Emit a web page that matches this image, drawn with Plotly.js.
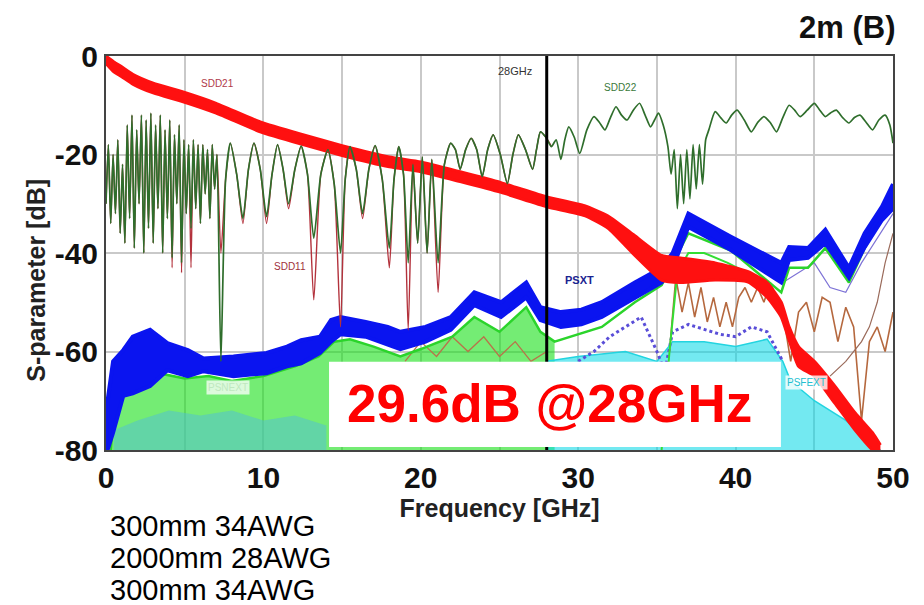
<!DOCTYPE html>
<html>
<head>
<meta charset="utf-8">
<script src="https://cdn.plot.ly/plotly-3.0.1.min.js"></script>
<style>html,body{margin:0;padding:0;background:#fff;}#chart{width:924px;height:605px;}</style>
</head>
<body>
<div id="chart"></div>
<script>
// ---------- tick labels ----------
const xTickVals = [0, 5, 10, 15, 20, 25, 30, 35, 40, 45, 50];
const xTickText = ['0', '', '10', '', '20', '', '30', '', '40', '', '50'];
const yTickVals = [0, -20, -40, -60, -80];
const yTickText = ['0', '-20', '-40', '-60', '-80'];

// ---------- SDD21 (insertion loss band: upper / lower edge) ----------
const fSDD21 = [0, 0.5, 1, 1.7, 3, 4.9, 7, 9.8, 12.4, 15, 18, 20, 22.5, 25.1, 28, 30.4, 31.9, 33.6, 35.3, 36.5, 38.7, 40.8, 42, 42.9, 43.4, 44, 45, 46.3, 47.6, 48.7, 49.2];
const sdd21Upper = [0, -1.2, -2.2, -3.7, -5.5, -7.3, -9.6, -13.4, -15.9, -18.2, -20.5, -21.5, -23.5, -25.7, -28.6, -30.4, -32.5, -36.5, -40.5, -41, -42, -43.8, -46, -50, -55, -59, -62, -67, -72.5, -76.5, -79];
const sdd21Lower = [-1.5, -3.2, -4.2, -5.7, -7.5, -9.3, -11.6, -15.4, -17.9, -20.2, -22.5, -23.5, -25.5, -27.7, -30.6, -32.4, -35, -40.5, -45.5, -46, -45.5, -45.9, -49, -53, -57.7, -63, -65, -70.5, -76, -80, -81];

// ---------- SDD22 (return loss) ----------
const fSDD22 = [
  0, 0.15, 0.3, 0.45, 0.6, 0.75, 0.9, 1.05, 1.2, 1.35,
  1.5, 1.65, 1.8, 1.95, 2.1, 2.25, 2.4, 2.55, 2.7, 2.85,
  3.0, 3.15, 3.3, 3.45, 3.6, 3.75, 3.9, 4.05, 4.2, 4.35,
  4.5, 4.65, 4.8, 4.95, 5.1, 5.25, 5.4, 5.55, 5.7, 5.85,
  6.0, 6.15, 6.3, 6.45, 6.6, 6.75, 6.9, 7.05, 7.3, 7.6,
  7.9, 8.3, 8.7, 9.05, 9.4, 9.8, 10.2, 10.55, 10.9, 11.25,
  11.6, 12.0, 12.4, 12.8, 13.2, 13.65, 14.1, 14.5, 14.9, 15.2,
  15.5, 15.9, 16.3, 16.7, 17.1, 17.55, 18.0, 18.3, 18.6, 18.9,
  19.2, 19.5, 19.8, 20.1, 20.4, 20.7, 21.1, 21.5, 21.9, 22.2,
  22.5, 22.85, 23.2, 23.55, 23.9, 24.25, 24.6, 25.05, 25.5, 25.85,
  26.2, 26.65, 27.1, 27.35, 27.6, 27.95, 28.3, 28.6, 28.9, 29.15,
  29.4, 29.75, 30.1, 30.55, 31.0, 31.35, 31.7, 32.05, 32.4, 32.75,
  33.1, 33.5, 33.9, 34.25, 34.6, 34.85, 35.1, 35.4, 35.7, 35.9,
  36.1, 36.3, 36.5, 36.7, 36.9, 37.1, 37.3, 37.5, 37.7, 37.9,
  38.1, 38.3, 38.7, 39.05, 39.4, 39.75, 40.1, 40.55, 41.0, 41.4,
  41.8, 42.2, 42.6, 43.0, 43.4, 43.75, 44.1, 44.55, 45.0, 45.35,
  45.7, 46.05, 46.4, 46.8, 47.2, 47.55, 47.9, 48.3, 48.7, 49.1,
  49.5, 49.8, 50];
const sdd22 = [
  -30, -18, -34, -20, -32, -17, -36, -22, -38, -14,
  -33, -12, -39, -15, -30, -12, -40, -13, -35, -11.6,
  -38, -14, -31, -12, -40, -15, -33, -13, -41, -16,
  -30, -14, -42, -17, -32, -18, -35, -17, -31, -18,
  -34, -18, -28, -19, -33, -18, -27, -20, -62, -25,
  -17.7, -24, -33, -23, -17.7, -23, -32.6, -24, -18, -23,
  -30, -23, -18.3, -24, -37, -24, -19, -26, -40, -25,
  -18.4, -23, -32, -23, -18.2, -25, -39, -25, -18.4, -24,
  -42, -22, -38, -20.5, -40, -21, -42, -22, -17.7, -19,
  -23, -19, -16.7, -19, -24.5, -19, -16, -20, -25.9, -20,
  -16, -19, -23, -19, -15.4, -16.5, -18.4, -17, -21, -17,
  -14.4, -16.5, -19.8, -15, -12.3, -13.5, -15, -12.5, -10.3, -12,
  -13, -11, -9.6, -12, -14.4, -13, -11.6, -14, -18.4, -24,
  -19, -31, -20, -30, -19, -29, -18, -27, -18, -26,
  -17, -15, -11.3, -12.5, -13.6, -12, -11, -13, -15.4, -13.5,
  -12.3, -13.5, -15.4, -12.5, -10, -11, -12.3, -11, -9.6, -11,
  -12.3, -11.5, -11, -12.5, -13.6, -12.5, -12, -13.5, -15, -13,
  -12, -14, -17.7];

// ---------- SDD11 (return loss, same grid up to 28.3 GHz) ----------
const fSDD11 = fSDD22.slice(0, 107);
const sdd11 = [
  -30, -18, -34, -20, -32, -17, -36, -22, -38, -14,
  -33, -12, -39, -15, -30, -12, -40, -13, -35, -11.6,
  -38, -14, -31, -12, -40, -15, -33, -13, -43, -16,
  -30, -14, -44, -17, -32, -18, -43, -17, -31, -18,
  -34, -18, -28, -19, -33, -18, -27, -20, -40, -25,
  -17.7, -24, -34, -23, -17.7, -23, -34, -24, -18, -23,
  -31, -23, -18.3, -24, -49.5, -24, -19, -26, -55, -25,
  -18.4, -23, -33, -23, -18.2, -25, -43, -25, -18.4, -24,
  -55.6, -22, -38, -20.5, -40, -21, -48, -22, -17.7, -19,
  -23, -19, -16.7, -19, -24.5, -19, -16, -20, -25.9, -20,
  -16, -19, -23, -19, -15.4, -16.5, -18.4];

// ---------- PSXT (power-sum crosstalk band) ----------
const fPSXT = [0, 0.1, 0.45, 1.1, 1.7, 2.8, 3.9, 5.2, 6.2, 8.1, 10.2, 11.5, 12.4, 13.6, 14.3, 14.9, 16.5, 17.9, 18.7, 20.3, 21.9, 23.4, 25.1, 26.7, 27.6, 28.9, 30.2, 31.5, 33.6, 35.3, 36.0, 37.0, 39.7, 42.9, 43.4, 44.6, 45.7, 47.2, 48.2, 49.3, 50];
const psxtTop = [-80, -70, -62, -59.7, -57, -55.6, -58.3, -59.7, -61.4, -61, -60.3, -59, -57.7, -57, -53.6, -53, -54, -55, -56, -55, -53, -48, -50, -46, -51, -52, -51.5, -50, -46, -43, -40, -32, -36.7, -42, -38.8, -39, -35.3, -43, -36, -30.6, -26];
const psxtBottom = [-80, -80, -76.5, -69, -68.5, -67, -63.8, -65, -64, -65, -64.4, -63, -62.4, -60.3, -58, -56.5, -57, -58.5, -59.5, -58, -55.6, -50.6, -53, -49, -53.6, -55, -54.5, -53, -49, -46, -43, -34.7, -39.4, -46, -41.4, -41, -38, -45, -38.8, -33.3, -31];

// ---------- PSNEXT (green) ----------
const fNext = [0.3, 0.5, 1.0, 1.5, 2.5, 3.5, 5, 6.5, 8, 10, 12, 13.5, 14.5, 15.5, 17, 18.7, 20, 22, 23.4, 25, 26.7, 27.6, 28.5, 30, 31.5, 33.6, 35.3, 37, 39.7, 42.9, 43.4, 44.6, 45.7, 47.2, 48.2, 49.3, 50];
const psnext = [-80, -72, -69, -68.5, -67, -64.5, -65.5, -65, -66, -65, -63, -61, -58, -57.5, -59, -61, -59.5, -57, -53, -56, -51, -56, -58, -56.5, -55, -50, -46.5, -36, -39.5, -48, -43, -43, -39, -46, -39, -33, -29];
const fNextDome = [35.3, 35.8, 36.3, 37, 38, 39.5, 41, 42.5, 43.5, 44];
const psnextDome = [-80, -60, -44, -40, -40, -42, -44.5, -50, -56, -62];

// ---------- low-level far-end components ----------
const fLowCyan = [0.5, 2, 4, 6, 8, 10, 12, 14];
const lowCyan = [-76, -74, -72, -73, -72, -74, -73, -75];
const fFext = [28, 30, 33, 35, 36, 38, 40, 42, 43, 43.5, 45, 47, 48.5, 49.2];
const psfext = [-62, -61, -60, -62, -58, -58, -59, -57.5, -62, -66, -70, -74, -78, -80];
const fPurple = [30, 31, 32, 33, 34, 35, 35.5, 36, 37, 38, 39, 40, 41, 42, 43];
const purple = [-62, -60, -57, -55, -53, -60, -64, -56, -54.5, -55.5, -56.5, -57, -55, -56, -62];
const fBrown = [35.8, 36.2, 36.6, 37, 37.4, 37.8, 38.2, 38.6, 39, 39.4, 39.8, 40.2, 40.6, 41, 41.4, 41.8, 42.2, 42.6, 43, 43.5, 44, 44.5, 45, 45.5, 46, 46.5, 47, 47.5, 48, 48.5, 49, 49.5, 50];
const brown = [-60, -45, -52, -46, -53, -47, -54, -49, -55, -50, -55, -49, -47, -50, -47, -50, -46, -49, -52, -62, -52, -50, -56, -49, -50, -58, -51, -55, -74, -58, -55, -60, -52];
const fBrown2 = [19, 20, 21, 22, 23, 24, 25, 26, 27, 28];
const brown2 = [-62, -58, -61, -57, -60, -57, -61, -58, -62, -60];
const fThin1 = [43, 44, 45, 46, 47, 48, 49, 50];
const thin1 = [-46, -44, -42, -47, -48, -42, -37, -32];
const fThin2 = [46, 47, 48, 48.5, 49, 49.5, 50];
const thin2 = [-65, -62, -58, -55, -50, -42, -36];

// 28 GHz marker line
const markerX = [28, 28];
const markerY = [0, -80];

// ---------- traces ----------
function base(x, y) {
  return {x: x, y: y, type: 'scatter', mode: 'lines', hoverinfo: 'skip', line: {width: 0, color: 'rgba(0,0,0,0)'}};
}
function flat(xs, v) { return [xs[0], xs[xs.length - 1]].map(() => v); }
function ends(xs) { return [xs[0], xs[xs.length - 1]]; }

const nextFillX = fNext.slice(0, 23);
const nextFillY = psnext.slice(0, 23);

const traces = [
  base(ends(nextFillX), flat(nextFillX, -80)),
  Object.assign(base(nextFillX, nextFillY), {fill: 'tonexty', fillcolor: 'rgba(30,225,30,0.62)'}),
  base(ends(fLowCyan), flat(fLowCyan, -80)),
  Object.assign(base(fLowCyan, lowCyan), {fill: 'tonexty', fillcolor: 'rgba(80,190,215,0.5)'}),
  base(ends(fFext), flat(fFext, -80)),
  Object.assign(base(fFext, psfext), {fill: 'tonexty', fillcolor: 'rgba(0,215,230,0.55)', line: {width: 1.5, color: '#22d4e0'}}),
  Object.assign(base(fBrown2, brown2), {line: {width: 1.3, color: '#b8734a'}}),
  Object.assign(base(fBrown, brown), {line: {width: 1.6, color: '#b5683e'}}),
  Object.assign(base(fThin2, thin2), {line: {width: 1.2, color: '#9a6a5a'}}),
  Object.assign(base(fThin1, thin1), {line: {width: 1.2, color: '#7d72d6'}}),
  Object.assign(base(fPurple, purple), {line: {width: 3, color: '#5a4ed8', dash: 'dot'}}),
  Object.assign(base(fNextDome, psnextDome), {line: {width: 2, color: '#33dd33'}}),
  Object.assign(base(fNext, psnext), {line: {width: 2.5, color: '#2bd42b'}}),
  Object.assign(base(fPSXT, psxtTop), {line: {width: 4, color: '#0a14f0'}}),
  Object.assign(base(fPSXT, psxtBottom), {fill: 'tonexty', fillcolor: '#0a14f0', line: {width: 4, color: '#0a14f0'}}),
  Object.assign(base(fSDD21, sdd21Upper), {line: {width: 3, color: '#ff1010', shape: 'spline', smoothing: 0.5}}),
  Object.assign(base(fSDD21, sdd21Lower), {fill: 'tonexty', fillcolor: '#ff1010', line: {width: 3, color: '#ff1010', shape: 'spline', smoothing: 0.5}}),
  Object.assign(base(fSDD11, sdd11), {line: {width: 1.4, color: '#b3323c', shape: 'spline', smoothing: 0.6}}),
  Object.assign(base(fSDD22, sdd22), {line: {width: 1.7, color: '#2f6e2c', shape: 'spline', smoothing: 0.6}}),
  Object.assign(base(markerX, markerY), {line: {width: 3, color: '#000000'}})
];

const fontA = 'Arial, "Liberation Sans", Helvetica, sans-serif';
// white text box, in paper fractions of the plot area
const boxX = [0.2834, 0.8576], boxY = [0.0075, 0.2238];

const layout = {
  width: 924, height: 605,
  margin: {l: 106, r: 31, t: 56, b: 155, pad: 0},
  paper_bgcolor: '#ffffff', plot_bgcolor: '#ffffff',
  showlegend: false, hovermode: false,
  xaxis: {
    range: [0, 50], tickmode: 'array', tickvals: xTickVals, ticktext: xTickText,
    tickfont: {family: fontA, size: 30, weight: 'bold', color: '#111'},
    showgrid: true, gridcolor: '#c9c9c9', gridwidth: 2, zeroline: false,
    showline: true, mirror: true, linecolor: '#444', linewidth: 2, ticks: '',
    title: {text: 'Frequency [GHz]', font: {family: fontA, size: 25, weight: 'bold', color: '#222'}, standoff: 6}
  },
  yaxis: {
    range: [-80, 0], tickmode: 'array', tickvals: yTickVals, ticktext: yTickText,
    tickfont: {family: fontA, size: 30, weight: 'bold', color: '#111'},
    showgrid: true, gridcolor: '#c9c9c9', gridwidth: 2, zeroline: false,
    showline: true, mirror: true, linecolor: '#444', linewidth: 2, ticks: ''
  },
  shapes: [
    {type: 'rect', xref: 'paper', yref: 'paper', x0: boxX[0], x1: boxX[1], y0: boxY[0], y1: boxY[1], fillcolor: '#ffffff', line: {width: 0}, layer: 'above'}
  ],
  annotations: [
    {xref: 'paper', yref: 'paper', x: -0.09, y: 0.43, text: 'S-parameter [dB]', textangle: -90, showarrow: false, xanchor: 'center', yanchor: 'middle', font: {family: fontA, size: 25, weight: 'bold', color: '#222'}},
    {xref: 'paper', yref: 'paper', x: 1.005, y: 1.073, text: '2m (B)', showarrow: false, xanchor: 'right', yanchor: 'middle', font: {family: fontA, size: 31, weight: 'bold', color: '#111'}},
    {xref: 'x', yref: 'y', x: 28.2, y: -70.6, text: '29.6dB @28GHz', showarrow: false, xanchor: 'center', yanchor: 'middle', font: {family: fontA, size: 53, weight: 'bold', color: '#ff0000'}},
    {xref: 'paper', yref: 'paper', x: 0.0025, y: -0.193, text: '300mm 34AWG', showarrow: false, xanchor: 'left', yanchor: 'middle', font: {family: fontA, size: 29, color: '#000'}},
    {xref: 'paper', yref: 'paper', x: 0.0025, y: -0.274, text: '2000mm 28AWG', showarrow: false, xanchor: 'left', yanchor: 'middle', font: {family: fontA, size: 29, color: '#000'}},
    {xref: 'paper', yref: 'paper', x: 0.0025, y: -0.355, text: '300mm 34AWG', showarrow: false, xanchor: 'left', yanchor: 'middle', font: {family: fontA, size: 29, color: '#000'}},
    {xref: 'x', yref: 'y', x: 7.1, y: -5.5, text: 'SDD21', showarrow: false, font: {family: fontA, size: 10, color: '#b03a4a'}},
    {xref: 'x', yref: 'y', x: 26.0, y: -3.1, text: '28GHz', showarrow: false, font: {family: fontA, size: 11, color: '#333'}},
    {xref: 'x', yref: 'y', x: 32.7, y: -6.4, text: 'SDD22', showarrow: false, font: {family: fontA, size: 10, color: '#3a7a3a'}},
    {xref: 'x', yref: 'y', x: 11.7, y: -42.8, text: 'SDD11', showarrow: false, font: {family: fontA, size: 10, color: '#a0303a'}},
    {xref: 'x', yref: 'y', x: 30.1, y: -45.5, text: 'PSXT', showarrow: false, font: {family: fontA, size: 11, weight: 'bold', color: '#1a2390'}},
    {xref: 'x', yref: 'y', x: 7.75, y: -67.4, text: 'PSNEXT', showarrow: false, bgcolor: 'rgba(255,255,255,0.75)', font: {family: fontA, size: 10, color: '#bfe8bf'}},
    {xref: 'x', yref: 'y', x: 44.5, y: -66.2, text: 'PSFEXT', showarrow: false, bgcolor: 'rgba(255,255,255,0.8)', font: {family: fontA, size: 10, color: '#22c0d0'}}
  ]
};

Plotly.newPlot('chart', traces, layout, {displayModeBar: false, staticPlot: true});
</script>
</body>
</html>
